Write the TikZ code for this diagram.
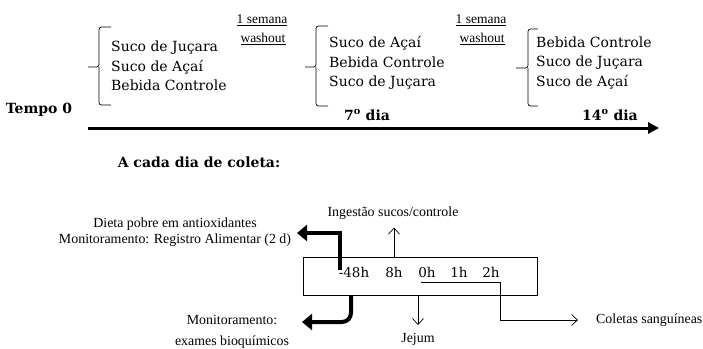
\documentclass[tikz,border=0pt]{standalone}
\usepackage{fontspec}
\setmainfont{Liberation Serif}
\newfontfamily\dvs{DejaVu Serif}
\usetikzlibrary{arrows.meta}
\begin{document}
\begin{tikzpicture}[x=1pt,y=-1pt,
  treat/.style={font=\dvs\fontsize{14}{19.5}\selectfont, align=left, anchor=west, inner sep=0pt},
  wash/.style={font=\fontsize{13.5}{15}\selectfont, inner sep=0pt},
  boldlbl/.style={font=\dvs\bfseries\fontsize{14}{16}\selectfont, inner sep=0pt},
  lbl/.style={font=\fontsize{13.9}{16}\selectfont, inner sep=0pt},
  hour/.style={font=\dvs\fontsize{13.5}{15}\selectfont, inner sep=0pt},
  fat/.style={line width=4pt, -{Triangle[length=10pt,width=16pt]}},
  thinarrow/.style={line width=0.7pt, -{Straight Barb[length=6pt,width=11pt]}},
  bracepath/.style={line width=0.7pt, rounded corners=2.5pt},
]
\useasboundingbox (0,0) rectangle (703,348);

% braces
\draw[bracepath] (111,27) -| (99,67) -- (88,67);
\draw[bracepath] (111,105) -| (99,67);
\draw[bracepath] (328,26) -| (316,67) -- (305,67);
\draw[bracepath] (328,106) -| (316,67);
\draw[bracepath] (538,29) -| (528,68) -- (516,68);
\draw[bracepath] (538,106) -| (528,68);

% treatment blocks
\node[treat] (b1) at (111,66) {Suco de Juçara\\Suco de Açaí\\Bebida Controle};
\node[treat] (b2) at (329,63) {Suco de Açaí\\Bebida Controle\\Suco de Juçara};
\node[treat] (b3) at (536,63) {Bebida Controle\\Suco de Juçara\\Suco de Açaí};

% washout labels
\node[wash] (w1a) at (262,20) {\underline{1 semana}};
\node[wash] (w1b) at (263,39) {\underline{washout}};
\node[wash] (w2a) at (481,20) {\underline{1 semana}};
\node[wash] (w2b) at (482,39) {\underline{washout}};

% timeline
\node[boldlbl] (tempo) at (39,110) {Tempo 0};
\node[boldlbl] (d7) at (367,115) {7\textsuperscript{o} dia};
\node[boldlbl] (d14) at (610,115) {14\textsuperscript{o} dia};
\coordinate (ts) at (88,128);
\coordinate (te) at (659,128);
\draw[line width=3pt, -{Triangle[length=11pt,width=11pt]}] (ts) -- (te);

% lower section
\node[boldlbl] (cada) at (199,162) {A cada dia de coleta:};

\node[draw, line width=0.8pt, minimum width=234pt, minimum height=38pt, inner sep=0pt] (box) at (420,276) {};
\node[hour] (t48) at (354,272) {-48h};
\node[hour] (t8) at (394,272) {8h};
\node[hour] (t0) at (427,272) {0h};
\node[hour] (t1) at (459,272) {1h};
\node[hour] (t2) at (491,272) {2h};

\node[lbl, align=center] (diet) at (175,232) {Dieta pobre em antioxidantes\\Monitoramento: Registro Alimentar (2 d)};
\node[lbl] (mon1) at (232,320) {Monitoramento:};
\node[lbl] (mon2) at (232,342) {exames bioquímicos};
\node[lbl] (ing) at (393,213) {Ingestão sucos/controle};
\node[lbl] (jej) at (418,339) {Jejum};
\node[lbl, anchor=west] (col) at (596,320) {Coletas sanguíneas};

% thick arrows
\coordinate (f1s) at (340,270);
\coordinate (f1e) at (297,233);
\draw[fat] (f1s) |- (f1e);
\coordinate (f2s) at (351,295);
\coordinate (f2e) at (302,322);
\draw[fat, rounded corners=9pt] (f2s) |- (f2e);

% thin arrows
\draw[thinarrow] (t8 |- box.north) -- ++(0,-29);
\coordinate (jt) at (418,325);
\draw[thinarrow] (jt |- box.south) -- (jt);
\coordinate (c1) at (421,282);
\coordinate (c2) at (500,320);
\coordinate (c3) at (578,320);
\draw[thinarrow] (c1) -| (c2) -- (c3);
\end{tikzpicture}
\end{document}
